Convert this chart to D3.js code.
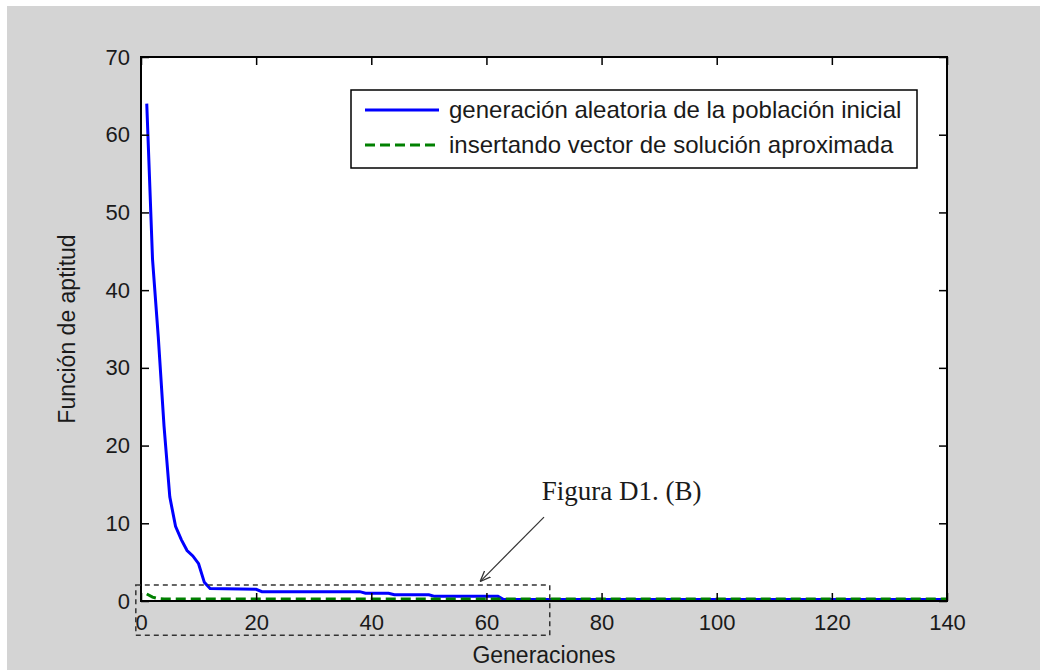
<!DOCTYPE html>
<html>
<head>
<meta charset="utf-8">
<script src="https://cdn.jsdelivr.net/npm/d3@7"></script>
<style>
  body { margin: 0; background: #fff; }
  text { font-family: "Liberation Sans", Arial, sans-serif; fill: #1a1a1a; }
</style>
</head>
<body>
<script>
// generations and fitness values
const blueGen = [1, 2, 3, 4, 5, 6, 7, 8, 9, 10, 11, 12, 20, 21, 38, 39, 43, 44, 50, 51, 62, 63, 140];
const blueVal = [64, 44, 34, 22.5, 13.4, 9.6, 7.9, 6.5, 5.8, 4.8, 2.4, 1.6, 1.5, 1.2, 1.2, 1.0, 1.0, 0.8, 0.8, 0.6, 0.6, 0.2, 0.2];
const greenGen = [1, 2, 3, 4, 140];
const greenVal = [0.9, 0.5, 0.3, 0.25, 0.25];

const seriesNames = ["generación aleatoria de la población inicial", "insertando vector de solución aproximada"];
const xTicks = [0, 20, 40, 60, 80, 100, 120, 140];
const yTicks = [0, 10, 20, 30, 40, 50, 60, 70];

// zoom box + arrow annotation, in data units
const boxX = [-0.9, 71];
const boxY = [-4.4, 2.05];
const arrowFrom = [70, 10.8];
const arrowTo = [58.9, 2.5];
const noteAt = [69.6, 13];
const noteText = "Figura D1. (B)";

const W = 1040, H = 670;
const margin = { top: 57, right: 93, bottom: 69, left: 141 };
const width = W - margin.left - margin.right;
const height = H - margin.top - margin.bottom;

const svg = d3.select("body").append("svg").attr("width", W).attr("height", H);

// figure background
svg.append("rect").attr("x", 7).attr("y", 6).attr("width", W - 7).attr("height", H - 6).attr("fill", "#d4d4d4");

const g = svg.append("g").attr("transform", `translate(${margin.left},${margin.top})`);

const x = d3.scaleLinear().domain([0, 140]).range([0, width]);
const y = d3.scaleLinear().domain([0, 70]).range([height, 0]);

g.append("rect").attr("width", width).attr("height", height).attr("fill", "#fff");

// lines
const line = d3.line().x(d => x(d[0])).y(d => y(d[1]));
g.append("path")
    .datum(blueGen.map((v, i) => [v, blueVal[i]]))
    .attr("d", line)
    .attr("fill", "none")
    .attr("stroke", "#0000ff")
    .attr("stroke-width", 3);
g.append("path")
    .datum(greenGen.map((v, i) => [v, greenVal[i]]))
    .attr("d", line)
    .attr("fill", "none")
    .attr("stroke", "#008000")
    .attr("stroke-width", 3)
    .attr("stroke-dasharray", "10,5");

// axes, MATLAB style: ticks inside on all four sides
const styleAxis = sel => {
    sel.select(".domain").remove();
    sel.selectAll(".tick line").attr("stroke", "#000").attr("stroke-width", 1.5);
    sel.selectAll("text").style("font-size", "22px").attr("fill", "#1a1a1a");
};
g.append("g").attr("transform", `translate(0,${height})`)
    .call(d3.axisBottom(x).tickValues(xTicks).tickSizeInner(-8).tickSizeOuter(0).tickPadding(13))
    .call(styleAxis);
g.append("g")
    .call(d3.axisLeft(y).tickValues(yTicks).tickSizeInner(-8).tickSizeOuter(0).tickPadding(11))
    .call(styleAxis);
g.append("g")
    .call(d3.axisTop(x).tickValues(xTicks).tickSizeInner(-8).tickSizeOuter(0).tickFormat(""))
    .call(styleAxis);
g.append("g").attr("transform", `translate(${width},0)`)
    .call(d3.axisRight(y).tickValues(yTicks).tickSizeInner(-8).tickSizeOuter(0).tickFormat(""))
    .call(styleAxis);

g.append("rect").attr("width", width).attr("height", height)
    .attr("fill", "none").attr("stroke", "#000").attr("stroke-width", 2);

// axis labels
g.append("text")
    .attr("x", width / 2).attr("y", height + 62)
    .attr("text-anchor", "middle")
    .style("font-size", "23px")
    .text("Generaciones");
g.append("text")
    .attr("transform", `translate(-66,${height / 2}) rotate(-90)`)
    .attr("text-anchor", "middle")
    .style("font-size", "23px")
    .text("Función de aptitud");

// legend
const legend = svg.append("g").attr("transform", "translate(351,90)");
legend.append("rect").attr("width", 566).attr("height", 78)
    .attr("fill", "#fff").attr("stroke", "#000").attr("stroke-width", 1.5);
const rows = [
    { name: seriesNames[0], color: "#0000ff", dash: null },
    { name: seriesNames[1], color: "#008000", dash: "10,5" }
];
rows.forEach((r, i) => {
    const ry = 20 + i * 35;
    legend.append("line")
        .attr("x1", 14).attr("x2", 88).attr("y1", ry).attr("y2", ry)
        .attr("stroke", r.color).attr("stroke-width", 3)
        .attr("stroke-dasharray", r.dash);
    legend.append("text")
        .attr("x", 98).attr("y", ry + 8)
        .style("font-size", "24px")
        .text(r.name);
});

// annotation: dashed box, arrow and note
const ann = g.append("g");
ann.append("rect")
    .attr("x", x(boxX[0])).attr("y", y(boxY[1]))
    .attr("width", x(boxX[1]) - x(boxX[0]))
    .attr("height", y(boxY[0]) - y(boxY[1]))
    .attr("fill", "none").attr("stroke", "#333")
    .attr("stroke-width", 1.5).attr("stroke-dasharray", "5,4");

svg.append("defs").append("marker")
    .attr("id", "arrow").attr("viewBox", "0 0 10 10")
    .attr("refX", 10).attr("refY", 5)
    .attr("markerWidth", 9).attr("markerHeight", 9)
    .attr("orient", "auto")
    .append("path").attr("d", "M0,1 L10,5 L0,9").attr("fill", "none").attr("stroke", "#333").attr("stroke-width", 1.2);

ann.append("line")
    .attr("x1", x(arrowFrom[0])).attr("y1", y(arrowFrom[1]))
    .attr("x2", x(arrowTo[0])).attr("y2", y(arrowTo[1]))
    .attr("stroke", "#333").attr("stroke-width", 1.2)
    .attr("marker-end", "url(#arrow)");

ann.append("text")
    .attr("x", x(noteAt[0])).attr("y", y(noteAt[1]))
    .style("font-family", "'Liberation Serif', 'Times New Roman', serif")
    .style("font-size", "27px")
    .text(noteText);
</script>
</body>
</html>
